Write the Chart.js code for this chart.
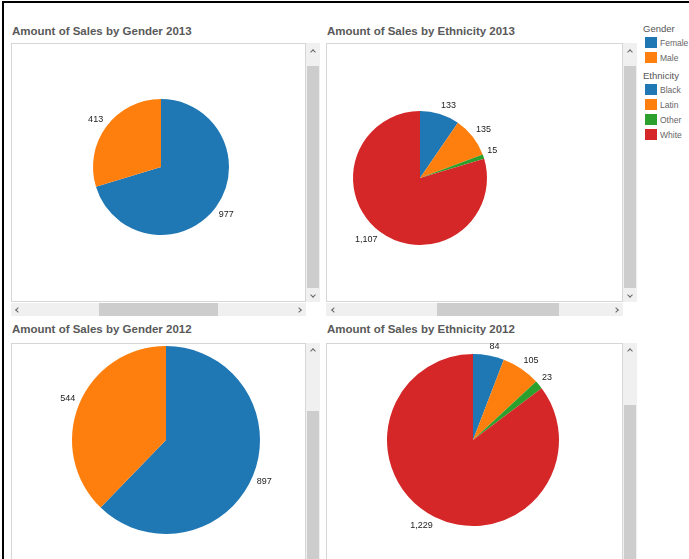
<!DOCTYPE html>
<html>
<head>
<meta charset="utf-8">
<script src="https://cdn.jsdelivr.net/npm/chart.js@4"></script>
<style>
    body { margin: 0; width: 689px; height: 559px; overflow: hidden; background: #fff; position: relative; font-family: "Liberation Sans", Arial, sans-serif; }
    .abs { position: absolute; }
    .frame-top { left: 2px; top: 1px; width: 687px; height: 2px; background: #000; }
    .frame-left { left: 2px; top: 1px; width: 2px; height: 558px; background: #000; }
    .title { font-weight: bold; font-size: 11.5px; color: #595959; white-space: nowrap; }
    .box { border: 1px solid #d6d6d6; background: #fff; box-sizing: border-box; }
    .track { background: #f0f0f0; }
    .thumb { background: #cdcdcd; }
    .chev { width: 3px; height: 3px; border-left: 1.5px solid #666; border-top: 1.5px solid #666; }
    .up { transform: rotate(45deg); }
    .down { transform: rotate(225deg); }
    .left { transform: rotate(-45deg); }
    .right { transform: rotate(135deg); }
    .leg-title { font-size: 9.5px; color: #555; }
    .leg-item { font-size: 8.5px; color: #666; }
    .swatch { width: 12px; height: 11px; }
</style>
</head>
<body>
<div class="abs frame-top"></div>
<div class="abs frame-left"></div>

<!-- titles -->
<div class="abs title" style="left:12px; top:25px;">Amount of Sales by Gender 2013</div>
<div class="abs title" style="left:327px; top:25px;">Amount of Sales by Ethnicity 2013</div>
<div class="abs title" style="left:12px; top:323px;">Amount of Sales by Gender 2012</div>
<div class="abs title" style="left:327px; top:323px;">Amount of Sales by Ethnicity 2012</div>

<!-- panel boxes -->
<div class="abs box" style="left:11px; top:43px; width:295px; height:259px;"></div>
<div class="abs box" style="left:326px; top:43px; width:297px; height:259px;"></div>
<div class="abs box" style="left:11px; top:343px; width:295px; height:230px;"></div>
<div class="abs box" style="left:326px; top:343px; width:297px; height:230px;"></div>

<!-- scrollbars top-left -->
<div class="abs track" style="left:306px; top:43px; width:14px; height:259px;"></div>
<div class="abs thumb" style="left:307px; top:66px; width:12px; height:222px;"></div>
<div class="abs chev up" style="left:311px; top:50px;"></div>
<div class="abs chev down" style="left:311px; top:293px;"></div>
<div class="abs track" style="left:11px; top:303px; width:295px; height:13px;"></div>
<div class="abs thumb" style="left:99px; top:303px; width:119px; height:13px;"></div>
<div class="abs chev left" style="left:16px; top:308px;"></div>
<div class="abs chev right" style="left:297px; top:308px;"></div>

<!-- scrollbars top-right -->
<div class="abs track" style="left:623px; top:43px; width:14px; height:259px;"></div>
<div class="abs thumb" style="left:624px; top:66px; width:12px; height:222px;"></div>
<div class="abs chev up" style="left:628px; top:50px;"></div>
<div class="abs chev down" style="left:628px; top:293px;"></div>
<div class="abs track" style="left:326px; top:303px; width:297px; height:13px;"></div>
<div class="abs thumb" style="left:437px; top:303px; width:122px; height:13px;"></div>
<div class="abs chev left" style="left:332px; top:308px;"></div>
<div class="abs chev right" style="left:614px; top:308px;"></div>

<!-- scrollbars bottom -->
<div class="abs track" style="left:306px; top:343px; width:14px; height:216px;"></div>
<div class="abs thumb" style="left:307px; top:411px; width:12px; height:148px;"></div>
<div class="abs chev up" style="left:311px; top:349px;"></div>
<div class="abs track" style="left:623px; top:343px; width:14px; height:216px;"></div>
<div class="abs thumb" style="left:624px; top:405px; width:12px; height:154px;"></div>
<div class="abs chev up" style="left:628px; top:349px;"></div>

<!-- legend -->
<div id="legend"></div>

<!-- charts -->
<div class="abs" style="left:17px; top:43px; width:288px; height:248px;"><canvas id="gender2013"></canvas></div>
<div class="abs" style="left:326px; top:56px; width:188px; height:244px;"><canvas id="ethnicity2013"></canvas></div>
<div class="abs" style="left:27px; top:343px; width:278px; height:194px;"><canvas id="gender2012"></canvas></div>
<div class="abs" style="left:326px; top:343px; width:294px; height:194px;"><canvas id="ethnicity2012"></canvas></div>

<script>
const genderLabels = ['Female', 'Male'];
const genderSales2013 = [977, 413];
const genderSales2012 = [897, 544];

const ethnicityLabels = ['Black', 'Latin', 'Other', 'White'];
const ethnicitySales2013 = [133, 135, 15, 1107];
const ethnicitySales2012 = [84, 105, 23, 1229];

const palette = ['#1f77b4', '#ff7f0e', '#2ca02c', '#d62728'];

// value labels outside each slice, Tableau style
const sliceLabels = {
    id: 'sliceLabels',
    afterDatasetsDraw(chart) {
        const ctx = chart.ctx;
        const meta = chart.getDatasetMeta(0);
        const values = chart.data.datasets[0].data;
        ctx.save();
        ctx.font = '9px "Liberation Sans", Arial, sans-serif';
        ctx.fillStyle = '#222';
        meta.data.forEach((arc, i) => {
            const p = arc.getProps(['x', 'y', 'startAngle', 'endAngle', 'outerRadius'], true);
            const mid = (p.startAngle + p.endAngle) / 2;
            const cos = Math.cos(mid), sin = Math.sin(mid);
            const r = p.outerRadius + 4;
            ctx.textAlign = cos > 0.05 ? 'left' : (cos < -0.05 ? 'right' : 'center');
            ctx.textBaseline = sin < -0.1 ? 'bottom' : (sin > 0.1 ? 'top' : 'middle');
            ctx.fillText(values[i].toLocaleString('en-US'), p.x + cos * r, p.y + sin * r);
        });
        ctx.restore();
    }
};

function makePie(id, labels, values, radius) {
    const el = document.getElementById(id);
    return new Chart(el.getContext('2d'), {
        type: 'pie',
        data: {
            labels: labels,
            datasets: [{
                data: values,
                backgroundColor: palette.slice(0, values.length),
                borderWidth: 0,
                radius: radius
            }]
        },
        options: {
            responsive: true,
            maintainAspectRatio: false,
            animation: false,
            plugins: {
                legend: { display: false },
                tooltip: { enabled: false }
            }
        },
        plugins: [sliceLabels]
    });
}

function buildLegend() {
    const host = document.getElementById('legend');
    const groups = [
        { title: 'Gender', items: genderLabels, top: 23 },
        { title: 'Ethnicity', items: ethnicityLabels, top: 70 }
    ];
    let html = '';
    groups.forEach(g => {
        html += `<div class="abs leg-title" style="left:643px; top:${g.top}px;">${g.title}</div>`;
        g.items.forEach((name, i) => {
            const y = g.top + 14 + i * 15;
            html += `<div class="abs swatch" style="left:645px; top:${y}px; background:${palette[i]};"></div>`;
            html += `<div class="abs leg-item" style="left:660px; top:${y + 1}px;">${name}</div>`;
        });
    });
    host.innerHTML = html;
}

buildLegend();
makePie('gender2013', genderLabels, genderSales2013, 68);
makePie('ethnicity2013', ethnicityLabels, ethnicitySales2013, 67);
makePie('gender2012', genderLabels, genderSales2012, 94);
makePie('ethnicity2012', ethnicityLabels, ethnicitySales2012, 86);
</script>
</body>
</html>
